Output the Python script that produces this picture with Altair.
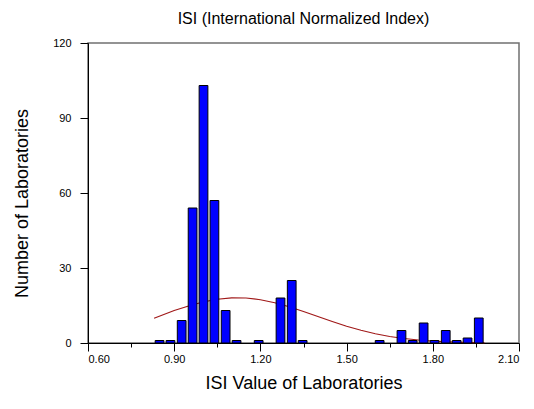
import altair as alt
import pandas as pd

# Histogram bins (bin centers) and counts
bin_centers = [0.849, 0.887, 0.926, 0.964, 1.002, 1.040, 1.079, 1.117, 1.194,
               1.270, 1.309, 1.347, 1.615, 1.691, 1.730, 1.768, 1.806, 1.845,
               1.883, 1.921, 1.960]
counts = [1, 1, 9, 54, 103, 57, 13, 1, 1,
          18, 25, 1, 1, 5, 1, 8, 1, 5,
          1, 2, 10]
bin_half_width = 0.0152

# Fitted normal curve
curve_x = [0.83, 0.90, 0.95, 1.00, 1.05, 1.10, 1.15, 1.20, 1.25, 1.30, 1.35, 1.40,
           1.45, 1.50, 1.55, 1.60, 1.65, 1.70, 1.75, 1.80, 1.85, 1.90, 1.95, 1.98]
curve_y = [9.9, 13.0, 14.8, 16.4, 17.5, 18.05, 18.0, 17.3, 16.1, 14.5, 12.6, 10.6,
           8.6, 6.7, 5.1, 3.7, 2.6, 1.8, 1.2, 0.76, 0.47, 0.28, 0.16, 0.11]

x_ticks = [0.60, 0.75, 0.90, 1.05, 1.20, 1.35, 1.50, 1.65, 1.80, 1.95, 2.10]
y_ticks = [0, 15, 30, 45, 60, 75, 90, 105, 120]

bars = pd.DataFrame({
    "x0": [c - bin_half_width for c in bin_centers],
    "x1": [c + bin_half_width for c in bin_centers],
    "n": counts,
})
curve = pd.DataFrame({"x": curve_x, "y": curve_y})

FONT = "Liberation Sans"

xscale = alt.Scale(domain=[0.6, 2.1], nice=False, zero=False)
yscale = alt.Scale(domain=[0, 120], nice=False)

xaxis = alt.Axis(
    values=x_ticks,
    labelExpr="abs(round(datum.value*100)) % 30 == 0 ? format(datum.value, '.2f') : ''",
    tickSize={"condition": {"test": "abs(round(datum.value*100)) % 30 == 0", "value": 8}, "value": 4},
    grid=False, domainColor="black", tickColor="black", labelColor="black",
    labelFont=FONT, labelFontSize=11, labelPadding=2,
    title="ISI Value of Laboratories", titleFont=FONT, titleFontSize=18,
    titleFontWeight="normal", titleColor="black", titlePadding=10,
)
yaxis = alt.Axis(
    values=y_ticks,
    labelExpr="datum.value % 30 == 0 ? datum.label : ''",
    tickSize={"condition": {"test": "datum.value % 30 == 0", "value": 8}, "value": 4},
    grid=False, domainColor="black", tickColor="black", labelColor="black",
    labelFont=FONT, labelFontSize=11, labelPadding=9,
    title="Number of Laboratories", titleFont=FONT, titleFontSize=18,
    titleFontWeight="normal", titleColor="black", titleX=-57, titleY=160,
)

line = alt.Chart(curve).mark_line(color="#A01818", strokeWidth=1.2).encode(
    x=alt.X("x:Q", scale=xscale, axis=xaxis),
    y=alt.Y("y:Q", scale=yscale, axis=yaxis),
)

hist = alt.Chart(bars).mark_bar(color="#0000FF", stroke="black", strokeWidth=1).encode(
    x=alt.X("x0:Q", scale=xscale),
    x2="x1:Q",
    y=alt.Y("n:Q", scale=yscale),
    y2=alt.datum(0),
)

chart = alt.layer(line, hist).properties(
    width=431, height=300,
    title=alt.TitleParams("ISI (International Normalized Index)", font=FONT, fontSize=16,
                          fontWeight="normal", color="black", offset=10),
    autosize=alt.AutoSizeParams(type="none"),
    padding={"left": 80, "top": 35, "right": 7, "bottom": 58},
).configure_view(stroke="#707070", strokeWidth=1.5)

chart.save("out.html", embed_options={"renderer": "svg", "actions": False})
